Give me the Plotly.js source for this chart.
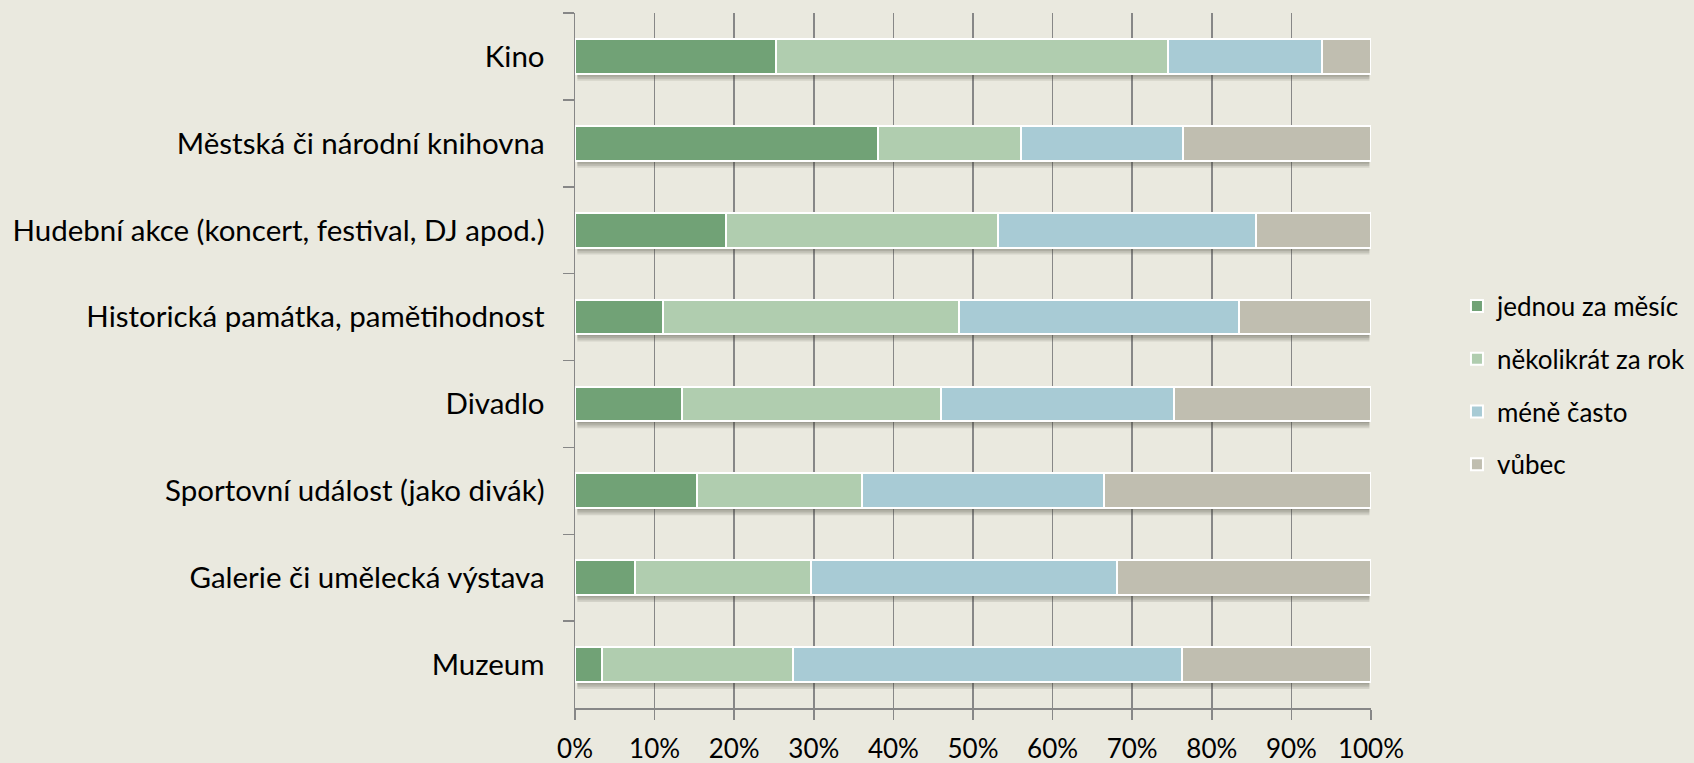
<!DOCTYPE html>
<html>
<head>
<meta charset="utf-8">
<script src="https://cdn.plot.ly/plotly-3.0.1.min.js"></script>
<style>html,body{margin:0;padding:0;background:#EAE9DF;}#chart{width:1694px;height:763px;}</style>
</head>
<body>
<div id="chart"></div>
<script>
const categories = [
  "Kino",
  "Městská či národní knihovna",
  "Hudební akce (koncert, festival, DJ apod.)",
  "Historická památka, pamětihodnost",
  "Divadlo",
  "Sportovní událost (jako divák)",
  "Galerie či umělecká výstava",
  "Muzeum"
];
const seriesNames = ["jednou za měsíc", "několikrát za rok", "méně často", "vůbec"];
const jednou      = [25.2, 38.1, 19.0, 11.1, 13.4, 15.3, 7.5, 3.4];
const nekolikrat  = [49.3, 17.9, 34.2, 37.1, 32.6, 20.7, 22.2, 24.0];
const meneCasto   = [19.3, 20.4, 32.3, 35.2, 29.3, 30.4, 38.4, 48.9];
const vubec       = [6.2, 23.6, 14.5, 16.6, 24.7, 33.6, 31.9, 23.7];
const xTicks = [0,10,20,30,40,50,60,70,80,90,100];
const xTickLabels = ["0%","10%","20%","30%","40%","50%","60%","70%","80%","90%","100%"];

const colors = ["#71A276", "#B0CDAF", "#A8CBD5", "#C0BEB0"];
const values = [jednou, nekolikrat, meneCasto, vubec];

const traces = values.map((v, i) => ({
  type: "bar",
  orientation: "h",
  name: seriesNames[i],
  legendgroup: "g" + i,
  y: categories,
  x: v,
  marker: {color: colors[i], line: {color: "#FFFFFF", width: 2}},
  hoverinfo: "skip"
}));

// soft drop shadow under each stacked bar (derived from the data totals)
const shapes = [];
categories.forEach((c, i) => {
  const total = values.reduce((s, arr) => s + arr[i], 0);
  for (let k = 1; k <= 4; k++) {
    shapes.push({
      type: "rect", layer: "between",
      xref: "x", yref: "y",
      x0: 0.3, x1: Math.min(total, 100) - 0.2,
      y0: i + 0.2, y1: i + 0.2 + k * 0.02,
      fillcolor: "rgba(60,60,50,0.13)",
      line: {width: 0}
    });
  }
});

const layout = {
  width: 1694, height: 763,
  paper_bgcolor: "#EAE9DF",
  plot_bgcolor: "#EAE9DF",
  barmode: "stack",
  bargap: 0.6,
  margin: {l: 575, r: 323, t: 13, b: 55, autoexpand: false},
  font: {family: "Lato, 'Open Sans', sans-serif", size: 29, color: "#000000"},
  showlegend: true,
  shapes: shapes,
  legend: {
    x: 1.108, xanchor: "left", y: 0.464, yanchor: "middle",
    font: {size: 26, color: "#000"},
    tracegroupgap: 16,
    itemwidth: 30,
    traceorder: "grouped",
    bgcolor: "rgba(0,0,0,0)"
  },
  xaxis: {
    range: [0, 100],
    tickvals: xTicks,
    ticktext: xTickLabels,
    showgrid: true,
    gridcolor: "#878787",
    gridwidth: 1.5,
    showline: true,
    linecolor: "#878787",
    linewidth: 2,
    ticks: "outside",
    ticklen: 10,
    tickcolor: "#878787",
    tickwidth: 1.5,
    ticklabelstandoff: 7,
    zeroline: false,
    fixedrange: true,
    tickfont: {size: 26}
  },
  yaxis: {
    type: "category",
    categoryorder: "array",
    categoryarray: categories,
    autorange: "reversed",
    showgrid: false,
    showline: true,
    linecolor: "#878787",
    linewidth: 1.5,
    ticks: "outside",
    tickson: "boundaries",
    ticklen: 11,
    tickcolor: "#878787",
    tickwidth: 1.5,
    ticklabelstandoff: 23,
    zeroline: false,
    fixedrange: true,
    tickfont: {size: 29.5}
  }
};

Plotly.newPlot("chart", traces, layout, {displayModeBar: false, staticPlot: true});
</script>
</body>
</html>
